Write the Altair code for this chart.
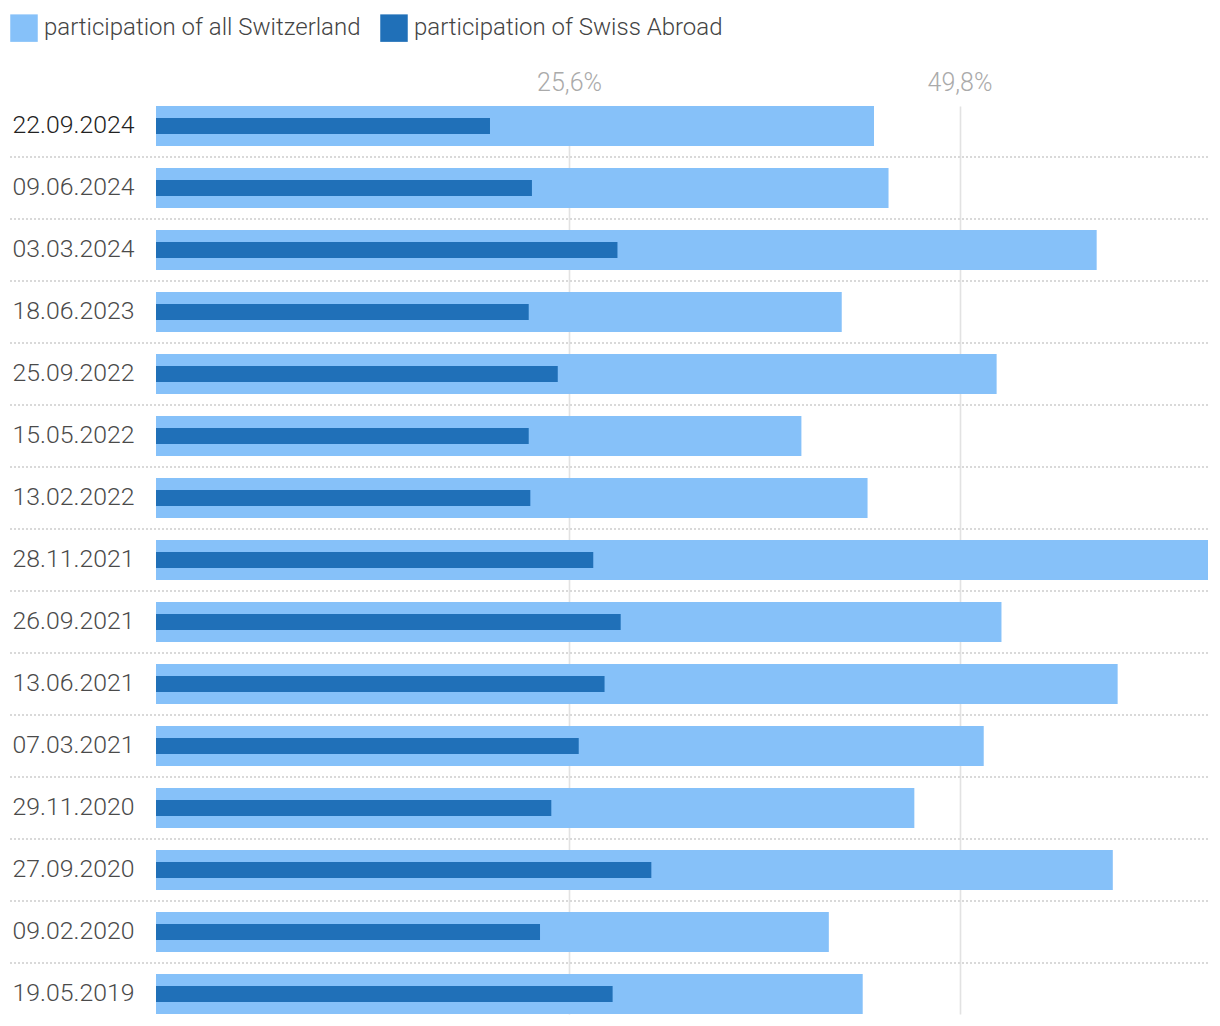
import altair as alt
import pandas as pd

dates = ["22.09.2024", "09.06.2024", "03.03.2024", "18.06.2023", "25.09.2022",
         "15.05.2022", "13.02.2022", "28.11.2021", "26.09.2021", "13.06.2021",
         "07.03.2021", "29.11.2020", "27.09.2020", "09.02.2020", "19.05.2019"]
all_switzerland = [44.5, 45.4, 58.3, 42.5, 52.1, 40.0, 44.1, 65.2, 52.4, 59.6,
                   51.3, 47.0, 59.3, 41.7, 43.8]
swiss_abroad = [20.7, 23.3, 28.6, 23.1, 24.9, 23.1, 23.2, 27.1, 28.8, 27.8,
                26.2, 24.5, 30.7, 23.8, 28.3]
series_names = ["participation of all Switzerland", "participation of Swiss Abroad"]
series_colors = ["#86c1f9", "#2070b8"]
tick_values = [25.6, 49.8]

FONT = "Roboto"
WEIGHT = 300

rows = []
for d, a, s in zip(dates, all_switzerland, swiss_abroad):
    rows.append({"date": d, "series": series_names[0], "value": a})
    rows.append({"date": d, "series": series_names[1], "value": s})
df = pd.DataFrame(rows)
sep_df = pd.DataFrame({"date": dates[1:]})

y_enc = alt.Y(
    "date:N",
    sort=dates,
    title=None,
    scale=alt.Scale(domain=dates, paddingInner=0.355, paddingOuter=0),
    axis=alt.Axis(
        orient="left", domain=False, ticks=False, tickSize=0, grid=False,
        labelAlign="left", labelPadding=144, labelFont=FONT, labelFontSize=24.8,
        labelFontWeight=WEIGHT,
        labelColor=alt.condition("datum.value == '22.09.2024'", alt.value("#222222"), alt.value("#4a4a4a")),
    ),
)

x_scale = alt.Scale(domain=[0, max(all_switzerland)], nice=False, zero=True)
x_axis = alt.Axis(
    orient="top", values=tick_values, domain=False, ticks=False, grid=True,
    gridColor="#e2e2e2", gridWidth=1.6, labelFont=FONT, labelFontSize=25,
    labelFontWeight=WEIGHT, labelColor="#aaaaaa", labelPadding=11,
    labelExpr="replace(format(datum.value, '.1f'), '.', ',') + '%'",
)

color_enc = alt.Color(
    "series:N",
    scale=alt.Scale(domain=series_names, range=series_colors),
    legend=alt.Legend(
        title=None, orient="none", direction="horizontal", legendX=-146, legendY=-92,
        symbolType="square", symbolSize=756, symbolStrokeWidth=0, symbolOpacity=1,
        labelFont=FONT, labelFontSize=24, labelFontWeight=WEIGHT, labelColor="#444444",
        labelOffset=6, labelLimit=0, columnPadding=19, padding=0,
    ),
)

base = alt.Chart(df)

light = base.transform_filter(alt.datum.series == series_names[0]).mark_bar().encode(
    x=alt.X("value:Q", scale=x_scale, axis=x_axis, title=None),
    y=y_enc,
    color=color_enc,
)

dark = base.transform_filter(alt.datum.series == series_names[1]).mark_bar(height=16).encode(
    x=alt.X("value:Q", scale=x_scale, title=None),
    y=alt.Y("date:N", sort=dates),
    color=color_enc,
)

seps = alt.Chart(sep_df).mark_rule(
    color="#d9d9d9", strokeWidth=2, strokeDash=[2, 2], yOffset=-31
).encode(
    y=alt.Y("date:N", sort=dates),
    x=alt.value(-146),
    x2=alt.value(1052),
)

chart = alt.layer(seps, light, dark).properties(
    width=1052, height=908,
    autosize=alt.AutoSizeParams(type="none"),
    padding={"left": 148, "top": 98, "right": 4, "bottom": 4},
).configure_view(stroke=None)

chart.save("out.html", embed_options={"renderer": "svg", "actions": False})
